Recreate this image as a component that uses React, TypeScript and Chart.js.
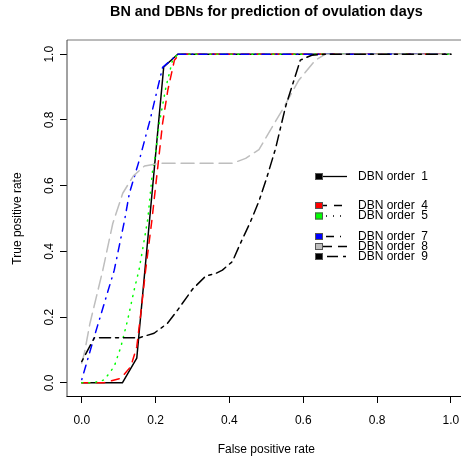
import React, { useEffect, useRef } from "react";
import { Chart, registerables } from "chart.js";

Chart.register(...registerables);

const FONT = "'Liberation Sans', Arial, Helvetica, sans-serif";

const TITLE = "BN and DBNs for prediction of ovulation days";
const X_TITLE = "False positive rate";
const Y_TITLE = "True positive rate";
const X_TICKS = [0, 0.2, 0.4, 0.6, 0.8, 1.0];
const Y_TICKS = [0, 0.2, 0.4, 0.6, 0.8, 1.0];

const SERIES_LABELS = [
  "DBN order  1",
  "DBN order  4",
  "DBN order  5",
  "DBN order  7",
  "DBN order  8",
  "DBN order  9",
];

// DBN order 1
const fpr1 = [0, 0.11, 0.149, 0.222, 0.26, 1];
const tpr1 = [0, 0, 0.075, 0.961, 1, 1];

// DBN order 4
const fpr4 = [0, 0.06, 0.106, 0.133, 0.149, 0.16, 0.173, 0.19, 0.208, 0.219, 0.233, 0.251, 0.265, 1];
const tpr4 = [0, 0, 0.014, 0.05, 0.11, 0.212, 0.343, 0.495, 0.678, 0.79, 0.89, 0.982, 1, 1];

// DBN order 5
const fpr5 = [0, 0.03, 0.061, 0.088, 0.106, 0.124, 0.142, 0.155, 0.167, 0.179, 0.192, 0.2, 0.21, 0.228, 0.246, 0.26, 1];
const tpr5 = [0, 0, 0.009, 0.05, 0.11, 0.19, 0.283, 0.343, 0.42, 0.5, 0.647, 0.698, 0.79, 0.9, 0.982, 1, 1];

// DBN order 7
const fpr7 = [0, 0.034, 0.061, 0.088, 0.116, 0.129, 0.156, 0.185, 0.219, 0.26, 1];
const tpr7 = [0.01, 0.141, 0.242, 0.343, 0.495, 0.577, 0.678, 0.8, 0.96, 1, 1];

// DBN order 8
const fpr8 = [0, 0.007, 0.022, 0.057, 0.084, 0.111, 0.14, 0.17, 0.21, 0.408, 0.444, 0.48, 0.543, 0.588, 0.633, 0.66, 1];
const tpr8 = [0.06, 0.09, 0.18, 0.343, 0.485, 0.577, 0.63, 0.66, 0.668, 0.668, 0.683, 0.71, 0.83, 0.921, 0.982, 1, 1];

// DBN order 9
const fpr9 = [0, 0.034, 0.155, 0.196, 0.232, 0.26, 0.3, 0.336, 0.363, 0.381, 0.408, 0.43, 0.457, 0.48, 0.5, 0.525, 0.552, 0.592, 0.623, 0.66, 1];
const tpr9 = [0.065, 0.137, 0.137, 0.151, 0.181, 0.222, 0.285, 0.325, 0.333, 0.343, 0.369, 0.425, 0.49, 0.553, 0.62, 0.713, 0.84, 0.982, 0.997, 1, 1];

const SERIES_X = [fpr1, fpr4, fpr5, fpr7, fpr8, fpr9];
const SERIES_Y = [tpr1, tpr4, tpr5, tpr7, tpr8, tpr9];

const COLORS = ["#000000", "#ff0000", "#00ff00", "#0000ff", "#bebebe", "#000000"];
const DASHES: number[][] = [[], [8, 7], [1, 6], [1, 6, 8, 6], [13, 6], [3, 5, 11, 5]];

// legend layout (pixels)
const LEGEND_BOX_X = 315;
const LEGEND_LINE_END = 347;
const LEGEND_TEXT_X = 358;
const LEGEND_Y = [176.5, 205.5, 216, 236.5, 246.5, 256.5];

const boxLegendPlugin = {
  id: "boxLegend",
  afterDraw(chart: any) {
    const { ctx, chartArea } = chart;
    const l = Math.round(chartArea.left);
    const t = Math.round(chartArea.top) - 1;
    const r = Math.round(chartArea.right);
    const b = Math.round(chartArea.bottom) + 0.5;
    ctx.save();
    ctx.setLineDash([]);
    ctx.lineWidth = 1;
    // top and right: soft grey (antialiased look)
    ctx.strokeStyle = "#777";
    ctx.beginPath();
    ctx.moveTo(l, t);
    ctx.lineTo(r, t);
    ctx.lineTo(r, b);
    ctx.stroke();
    // left
    ctx.strokeStyle = "#444";
    ctx.beginPath();
    ctx.moveTo(l, t);
    ctx.lineTo(l, b);
    ctx.stroke();
    // bottom
    ctx.strokeStyle = "#000";
    ctx.beginPath();
    ctx.moveTo(l - 0.5, b);
    ctx.lineTo(r, b);
    ctx.stroke();

    // legend
    chart.data.datasets.forEach((ds: any, i: number) => {
      const y = LEGEND_Y[i];
      ctx.save();
      ctx.strokeStyle = "#000";
      ctx.lineWidth = 1.3;
      ctx.lineCap = "butt";
      ctx.setLineDash(ds.borderDash || []);
      ctx.beginPath();
      ctx.moveTo(LEGEND_BOX_X + 4, y);
      ctx.lineTo(LEGEND_LINE_END, y);
      ctx.stroke();
      ctx.setLineDash([]);
      ctx.fillStyle = ds.borderColor;
      ctx.fillRect(LEGEND_BOX_X, y - 3.5, 8, 7);
      ctx.strokeStyle = "#555";
      ctx.lineWidth = 1;
      ctx.strokeRect(LEGEND_BOX_X + 0.5, y - 3, 7, 6);
      ctx.fillStyle = "#000";
      ctx.font = `12px ${FONT}`;
      ctx.textBaseline = "middle";
      ctx.textAlign = "left";
      ctx.fillText(ds.label, LEGEND_TEXT_X, y);
      ctx.restore();
    });
    ctx.restore();
  },
};

export default function App() {
  const ref = useRef<HTMLCanvasElement | null>(null);

  useEffect(() => {
    if (!ref.current) return;
    document.body.style.margin = "0";
    const datasets = SERIES_LABELS.map((label, i) => ({
      label,
      data: SERIES_X[i].map((x, j) => ({ x, y: SERIES_Y[i][j] })),
      borderColor: COLORS[i],
      backgroundColor: COLORS[i],
      borderDash: DASHES[i],
      borderWidth: 1.5,
      borderCapStyle: "round" as const,
      borderJoinStyle: "round" as const,
      pointRadius: 0,
      tension: 0,
      fill: false,
      order: -i,
    }));

    const chart = new Chart(ref.current, {
      type: "line",
      data: { datasets },
      plugins: [boxLegendPlugin],
      options: {
        responsive: false,
        animation: false,
        devicePixelRatio: 1,
        layout: { padding: { left: 0, right: 2, top: 0, bottom: 0 } },
        plugins: {
          legend: { display: false },
          tooltip: { enabled: false },
          title: {
            display: true,
            text: TITLE,
            fullSize: false,
            color: "#000",
            font: { family: FONT, size: 14.4, weight: "bold", lineHeight: 1.2 },
            padding: { top: 3.4, bottom: 20.4 },
          },
        },
        scales: {
          x: {
            type: "linear",
            min: -0.04,
            max: 1.04,
            afterFit: (s: any) => {
              s.height = 67;
            },
            afterBuildTicks: (s: any) => {
              s.ticks = X_TICKS.map((v) => ({ value: v }));
            },
            ticks: {
              autoSkip: false,
              minRotation: 0,
              maxRotation: 0,
              padding: 10.6,
              color: "#000",
              font: { family: FONT, size: 12 },
              callback: (v: any) => Number(v).toFixed(1),
            },
            grid: { drawOnChartArea: false, drawTicks: true, tickLength: 7, color: "#000", lineWidth: 1 },
            border: { display: false },
            title: {
              display: true,
              text: X_TITLE,
              color: "#000",
              font: { family: FONT, size: 12 },
              padding: { top: 0, bottom: 5.8 },
            },
          },
          y: {
            type: "linear",
            min: -0.04,
            max: 1.04,
            afterFit: (s: any) => {
              s.width = 67;
            },
            afterBuildTicks: (s: any) => {
              s.ticks = Y_TICKS.map((v) => ({ value: v }));
            },
            ticks: {
              autoSkip: false,
              minRotation: 90,
              maxRotation: 90,
              crossAlign: "center",
              padding: 2.2,
              color: "#000",
              font: { family: FONT, size: 12 },
              callback: (v: any) => Number(v).toFixed(1),
            },
            grid: { drawOnChartArea: false, drawTicks: true, tickLength: 7, color: "#000", lineWidth: 1 },
            border: { display: false },
            title: {
              display: true,
              text: Y_TITLE,
              color: "#000",
              font: { family: FONT, size: 12 },
              padding: { top: 10.8, bottom: 0 },
            },
          },
        },
      } as any,
    });
    return () => chart.destroy();
  }, []);

  return (
    <div style={{ position: "absolute", left: 0, top: 0, width: 461, height: 463, overflow: "hidden", background: "#fff" }}>
      <canvas ref={ref} width={470} height={463} style={{ width: 470, height: 463, display: "block" }} />
    </div>
  );
}
